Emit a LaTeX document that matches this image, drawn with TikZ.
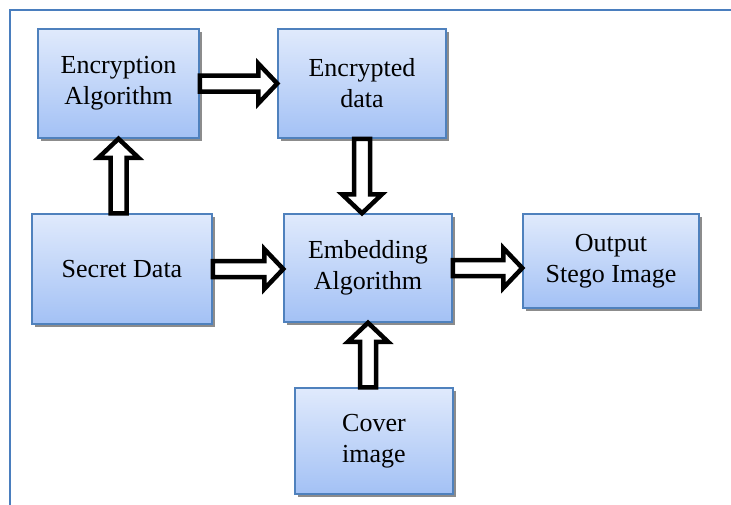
\documentclass[tikz,border=0pt]{standalone}
\usepackage{fontspec}
\setmainfont{Liberation Serif}
\usetikzlibrary{calc,shadows}
\definecolor{boxedge}{HTML}{4F81BD}
\definecolor{boxtop}{HTML}{E0EAFC}
\definecolor{boxbot}{HTML}{A3C1F5}
\definecolor{framecol}{HTML}{4A7EBE}
\newcommand{\hollowarrow}[2]{%
	\draw [blockarrow] ($(#1)!8pt!90:(#2)$)
		-- ($(#2)!19pt!(#1)!8pt!90:(#2)$)
		-- ($(#2)!19pt!(#1)!20pt!90:(#2)$)
		-- (#2)
		-- ($(#2)!19pt!(#1)!20pt!-90:(#2)$)
		-- ($(#2)!19pt!(#1)!8pt!-90:(#2)$)
		-- ($(#1)!8pt!-90:(#2)$) -- cycle;}
\begin{document}
\begin{tikzpicture}[x=1pt,y=-1pt,
	stepbox/.style={draw=boxedge,line width=1.5pt,top color=boxtop,bottom color=boxbot,
		drop shadow={shadow xshift=2.5pt,shadow yshift=-3pt,fill=black!45,opacity=1},
		align=center,inner sep=0pt,font=\fontsize{26}{31}\selectfont},
	blockarrow/.style={draw=black,line width=4.5pt,fill=white,line join=miter}]
				\useasboundingbox (0,0) rectangle (731,504);
				\draw [framecol,line width=2.5pt] (10,510) -- (10,10) -- (740,10);
				% boxes
				\node (enc) at (118.5,83.5) [stepbox,minimum width=161pt,minimum height=109pt] {Encryption\\Algorithm};
				\node (encd) at (362,83.5) [stepbox,minimum width=168pt,minimum height=109pt] {Encrypted\\data};
				\node (sec) at (122,269) [stepbox,minimum width=180pt,minimum height=110pt] {Secret Data};
				\node (emb) at (368,268) [stepbox,minimum width=168pt,minimum height=108pt] {Embedding\\Algorithm};
				\node (out) at (611,261) [stepbox,minimum width=176pt,minimum height=94pt] {Output\\Stego Image};
				\node (cov) at (374,441) [stepbox,minimum width=158pt,minimum height=106pt] {Cover\\image};
				% arrow ends
				\coordinate (a1) at (sec.north -| enc.south);
				\coordinate (a2) at (encd.west |- enc.east);
				\coordinate (a3) at (emb.north -| encd.south);
				\coordinate (a4) at (emb.west |- sec.east);
				\coordinate (a5) at (out.west |- emb.east);
				\coordinate (a6) at (cov.north -| emb.south);
				% arrows
				\hollowarrow{a1}{enc.south}
				\hollowarrow{enc.east}{a2}
				\hollowarrow{encd.south}{a3}
				\hollowarrow{sec.east}{a4}
				\hollowarrow{emb.east}{a5}
				\hollowarrow{a6}{emb.south}
\end{tikzpicture}
\end{document}
